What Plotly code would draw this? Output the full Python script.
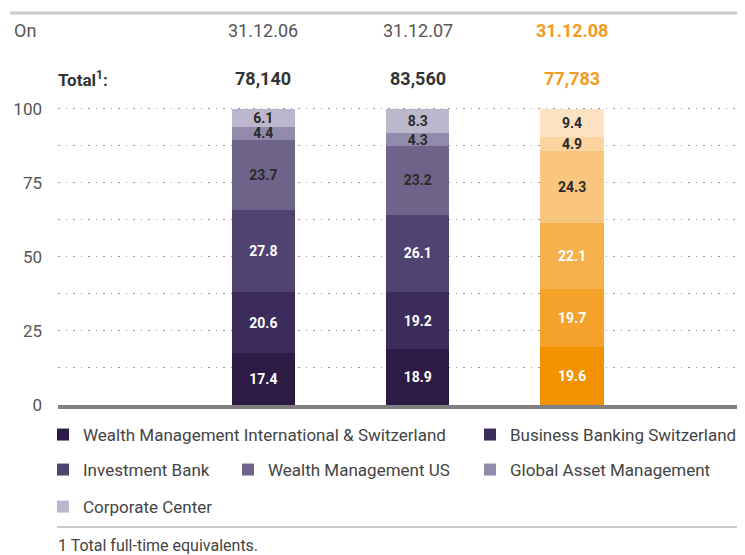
import plotly.graph_objects as go

dates = ["31.12.06", "31.12.07", "31.12.08"]
totals = ["78,140", "83,560", "77,783"]
segments = ["Wealth Management International & Switzerland", "Business Banking Switzerland",
            "Investment Bank", "Wealth Management US", "Global Asset Management", "Corporate Center"]
values = {
    "Wealth Management International & Switzerland": [17.4, 18.9, 19.6],
    "Business Banking Switzerland": [20.6, 19.2, 19.7],
    "Investment Bank": [27.8, 26.1, 22.1],
    "Wealth Management US": [23.7, 23.2, 24.3],
    "Global Asset Management": [4.4, 4.3, 4.9],
    "Corporate Center": [6.1, 8.3, 9.4],
}
yticks = [0, 25, 50, 75, 100]

purples = ["#2d1b46", "#3b2c5b", "#514371", "#6e6389", "#918aaa", "#bcb7cc"]
oranges = ["#f39200", "#f5a22a", "#f6b04c", "#f9c67f", "#fbd4a0", "#fde3c4"]
text_colors = ["white", "white", "white", "#2a2a2a", "#2a2a2a", "#2a2a2a"]

FONT = "Roboto, Lato, sans-serif"
W, H = 745, 555
OFF = 8  # page offset of the figure (default body margin)
# plot area in page pixels: left 58, right 745, top 107, bottom 405
L = 58 - OFF
R = (W + OFF) - 745
T = 107 - OFF
B = (H + OFF) - 405
PW = W - L - R
PH = H - T - B

def px_x(px):
    return (px - OFF - L) / PW

def px_y(py):
    return (H - B - (py - OFF)) / PH

def cx(px):
    return (px - OFF) / W

def cy(py):
    return 1 - (py - OFF) / H

x = [0, 1, 2]
fig = go.Figure()

legend_pos = [(43, 435), (470, 435), (43, 470), (228, 470), (470, 470), (43, 507)]
layout_legends = {}
for i, name in enumerate(segments):
    lname = "legend" if i == 0 else f"legend{i+1}"
    fig.add_trace(go.Bar(
        x=x, y=values[name], name=name,
        marker=dict(color=[purples[i], purples[i], oranges[i]], line=dict(width=0)),
        text=[f"{v:.1f}" for v in values[name]],
        textposition="inside", insidetextanchor="middle", textangle=0,
        textfont=dict(family=FONT, size=14, color=text_colors[i], weight="bold"),
        width=0.41, legend=lname, hoverinfo="skip", showlegend=True,
    ))
    lx, ly = legend_pos[i]
    layout_legends[lname] = dict(
        x=cx(lx), y=cy(ly), xref="container", yref="container",
        xanchor="left", yanchor="middle",
        orientation="h", bgcolor="rgba(0,0,0,0)", itemwidth=30,
        font=dict(family=FONT, size=17, color="#444"),
    )

annotations = []
annotations.append(dict(x=px_x(12), y=px_y(30), xref="paper", yref="paper", text="On",
                        showarrow=False, xanchor="left", yanchor="middle",
                        font=dict(family=FONT, size=18, color="#555")))
annotations.append(dict(x=px_x(56), y=px_y(79), xref="paper", yref="paper", text="<b>Total<sup>1</sup>:</b>",
                        showarrow=False, xanchor="left", yanchor="middle",
                        font=dict(family=FONT, size=17, color="#333")))
for i, (d, t) in enumerate(zip(dates, totals)):
    col = "#f39a1e" if i == 2 else "#555"
    dtxt = f"<b>{d}</b>" if i == 2 else d
    annotations.append(dict(x=x[i], y=px_y(30), xref="x", yref="paper", text=dtxt,
                            showarrow=False, xanchor="center", yanchor="middle",
                            font=dict(family=FONT, size=18, color=col)))
    tcol = "#f39a1e" if i == 2 else "#333"
    annotations.append(dict(x=x[i], y=px_y(79), xref="x", yref="paper", text=f"<b>{t}</b>",
                            showarrow=False, xanchor="center", yanchor="middle",
                            font=dict(family=FONT, size=18, color=tcol)))
annotations.append(dict(x=px_x(56), y=px_y(545), xref="paper", yref="paper",
                        text="1 Total full-time equivalents.",
                        showarrow=False, xanchor="left", yanchor="middle",
                        font=dict(family=FONT, size=16, color="#444")))

shapes = [
    dict(type="line", xref="paper", yref="paper", x0=px_x(10), x1=1, y0=px_y(13), y1=px_y(13),
         line=dict(color="#cccccc", width=3)),
    dict(type="line", xref="paper", yref="paper", x0=px_x(57), x1=1, y0=px_y(527), y1=px_y(527),
         line=dict(color="#bbbbbb", width=1.5)),
]

fig.update_layout(
    width=W, height=H, barmode="stack",
    margin=dict(l=L, r=R, t=T, b=B, pad=0, autoexpand=False),
    paper_bgcolor="white", plot_bgcolor="white",
    font=dict(family=FONT, size=16, color="#555"),
    uniformtext=dict(minsize=14, mode="show"),
    annotations=annotations, shapes=shapes,
    **layout_legends,
)
fig.update_xaxes(range=[-1.33, 3.12], showticklabels=False, showgrid=False, zeroline=False,
                 showline=True, linecolor="#808080", linewidth=4, ticks="")
fig.update_yaxes(range=[0, 100.6], tickvals=yticks, showgrid=True, gridcolor="#999999",
                 griddash="1.5px,6px", gridwidth=1.3, zeroline=False, ticks="", ticklabelstandoff=15,
                 tickfont=dict(family=FONT, size=17, color="#555"),
                 minor=dict(dtick=12.5, tick0=0, showgrid=True, gridcolor="#999999",
                            griddash="1.5px,6px", gridwidth=1.3))
fig.write_html("out.html")
